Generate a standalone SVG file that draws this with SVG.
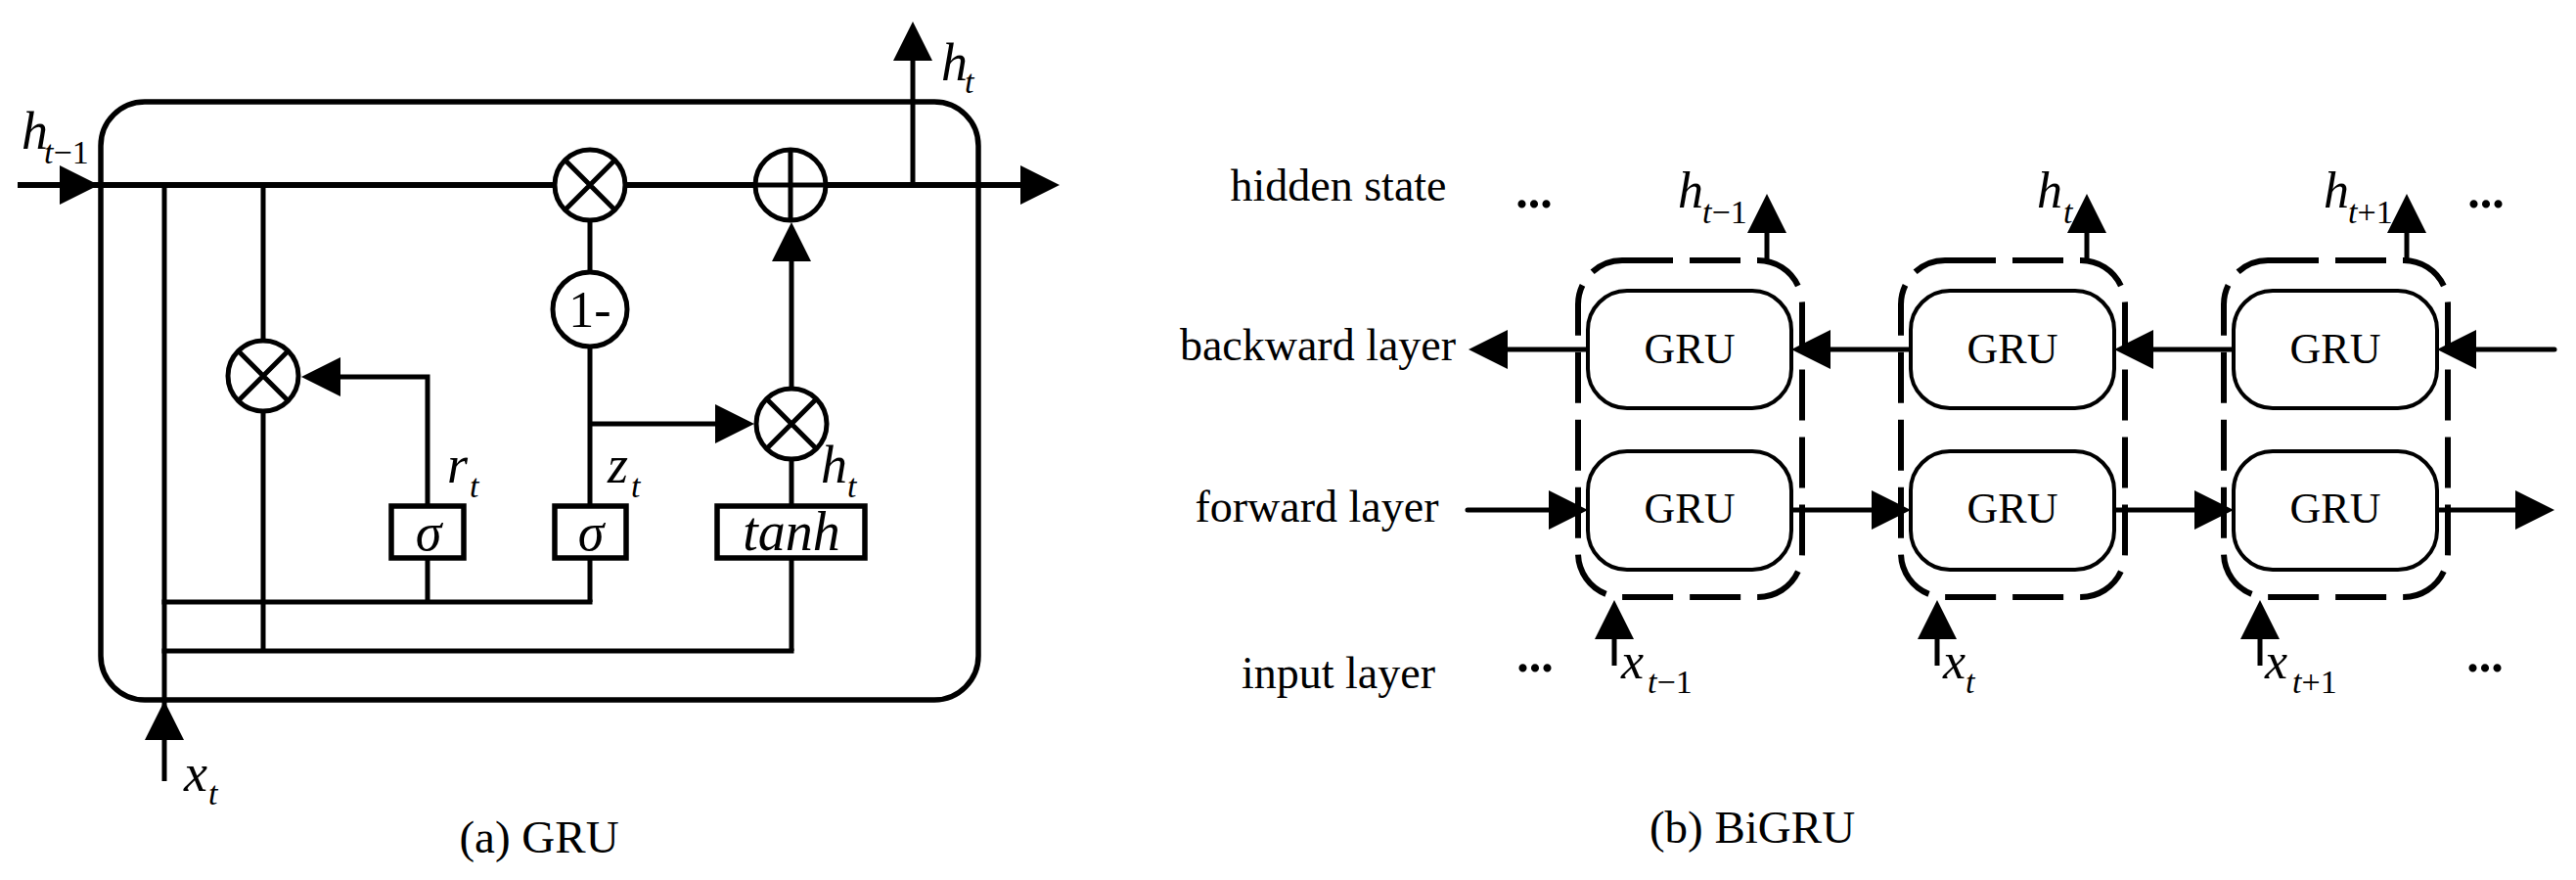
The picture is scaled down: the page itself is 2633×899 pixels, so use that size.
<svg xmlns="http://www.w3.org/2000/svg" xmlns:xlink="http://www.w3.org/1999/xlink" width="2633" height="899" viewBox="0 0 2633 899">
<style>
text{font-family:"Liberation Serif","Times New Roman",serif;fill:#000}
.m{font-style:italic;font-size:54px}
.s{font-size:34px}
.si{font-style:italic}
.lbl{font-size:46px;text-anchor:middle}
.cap{font-size:47px;text-anchor:middle}
.gru{font-size:44px;text-anchor:middle}
.dots{font-size:50px;font-weight:bold;text-anchor:middle}
.ln{fill:none;stroke:#000;stroke-width:5}
.thick{fill:none;stroke:#000;stroke-width:6}
.op{fill:#fff;stroke:#000;stroke-width:5}
.box{fill:#fff;stroke:#000;stroke-width:5.5}
.cell{fill:#fff;stroke:#000;stroke-width:4}
.dash{fill:none;stroke:#000;stroke-width:6;stroke-dasharray:52 17}
.bl{fill:none;stroke:#000;stroke-width:5;stroke-linecap:round}
</style>
<defs>
<path id="ah" d="M0,0 L-40,-20 L-40,20 Z" fill="#000"/>
</defs>
<rect width="2633" height="899" fill="#fff"/>

<!-- ================= (a) GRU ================= -->
<g id="gru-cell">
<rect x="103" y="104" width="897" height="611" rx="45" ry="45" fill="none" stroke="#000" stroke-width="5.5"/>
</g>

<g id="gru-connectors">
<path class="thick" d="M18,189 H1045"/>
<use xlink:href="#ah" transform="translate(101,189)"/>
<use xlink:href="#ah" transform="translate(1083,189)"/>
<path class="ln" d="M933,189 V60"/>
<use xlink:href="#ah" transform="translate(933,22) rotate(-90)"/>
<path class="ln" d="M168,189 V798"/>
<use xlink:href="#ah" transform="translate(168,716) rotate(-90)"/>
<path class="ln" d="M269,189 V665"/>
<path class="ln" d="M437,517 V385 H345"/>
<use xlink:href="#ah" transform="translate(308,385) rotate(180)"/>
<path class="ln" d="M603,189 V517"/>
<path class="ln" d="M603,433 H733"/>
<use xlink:href="#ah" transform="translate(771,433)"/>
<path class="ln" d="M809,433 V265"/>
<use xlink:href="#ah" transform="translate(809,227) rotate(-90)"/>
<path class="ln" d="M809,433 V517"/>
<path class="ln" d="M437,570 V615 M603,570 V615 M809,570 V665"/>
<path class="ln" d="M165.5,615 H605.5 M165.5,665 H811.5"/>
</g>

<g id="op-mul-top">
<circle class="op" cx="603" cy="189" r="36"/>
<path class="ln" d="M577.5,163.5 L628.5,214.5 M628.5,163.5 L577.5,214.5"/>
</g>
<g id="op-add">
<circle class="op" cx="808" cy="189" r="36"/>
<path class="ln" d="M772,189 H844 M808,153 V225"/>
</g>
<g id="op-one-minus">
<circle class="op" cx="603" cy="316" r="38"/>
<text x="603" y="334" style="font-size:52px;text-anchor:middle">1-</text>
</g>
<g id="op-mul-reset">
<circle class="op" cx="269" cy="384" r="36"/>
<path class="ln" d="M243.5,358.5 L294.5,409.5 M294.5,358.5 L243.5,409.5"/>
</g>
<g id="op-mul-update">
<circle class="op" cx="809" cy="433" r="36"/>
<path class="ln" d="M783.5,407.5 L834.5,458.5 M834.5,407.5 L783.5,458.5"/>
</g>
<g id="sigma-r">
<rect class="box" x="400" y="517" width="74" height="53"/>
<text class="m" x="438" y="562" text-anchor="middle">σ</text>
</g>
<g id="sigma-z">
<rect class="box" x="567" y="517" width="73" height="53"/>
<text class="m" x="604" y="562" text-anchor="middle">σ</text>
</g>
<g id="tanh">
<rect class="box" x="733" y="517" width="151" height="53"/>
<text class="m" x="809" y="562" text-anchor="middle" style="font-size:56px">tanh</text>
</g>

<g id="gru-labels">
<text class="m" x="22" y="152">h</text><text class="s" x="45" y="167"><tspan class="si">t</tspan>−1</text>
<text class="m" x="962" y="82">h</text><text class="s si" x="986" y="95">t</text>
<text class="m" x="457" y="493">r</text><text class="s si" x="480" y="508">t</text>
<text class="m" x="621" y="493">z</text><text class="s si" x="645" y="508">t</text>
<text class="m" x="839" y="493">h</text><text class="s si" x="866" y="508">t</text>
<text class="m" x="188" y="808">x</text><text class="s si" x="213" y="822">t</text>
<text class="cap" x="551" y="871">(a) GRU</text>
</g>

<!-- ================= (b) BiGRU ================= -->
<g id="bigru-connectors">
<path class="bl" d="M1623,357 H1541"/>
<use xlink:href="#ah" transform="translate(1501,357) rotate(180)"/>
<path class="bl" d="M1953,357 H1871"/>
<use xlink:href="#ah" transform="translate(1831,357) rotate(180)"/>
<path class="bl" d="M2283,357 H2200"/>
<use xlink:href="#ah" transform="translate(2161,357) rotate(180)"/>
<path class="bl" d="M2611,357 H2530"/>
<use xlink:href="#ah" transform="translate(2491,357) rotate(180)"/>
<path class="bl" d="M1500,521 H1585"/>
<use xlink:href="#ah" transform="translate(1623,521)"/>
<path class="bl" d="M1831,521 H1915"/>
<use xlink:href="#ah" transform="translate(1953,521)"/>
<path class="bl" d="M2161,521 H2245"/>
<use xlink:href="#ah" transform="translate(2283,521)"/>
<path class="bl" d="M2491,521 H2573"/>
<use xlink:href="#ah" transform="translate(2611,521)"/>
<path class="ln" d="M1806,266 V236 M2133,266 V236 M2460,266 V236"/>
<use xlink:href="#ah" transform="translate(1806,198) rotate(-90)"/>
<use xlink:href="#ah" transform="translate(2133,198) rotate(-90)"/>
<use xlink:href="#ah" transform="translate(2460,198) rotate(-90)"/>
<path class="ln" d="M1650,680 V650 M1980,680 V650 M2310,680 V650"/>
<use xlink:href="#ah" transform="translate(1650,613) rotate(-90)"/>
<use xlink:href="#ah" transform="translate(1980,613) rotate(-90)"/>
<use xlink:href="#ah" transform="translate(2310,613) rotate(-90)"/>
</g>

<g id="step-t-1">
<rect class="dash" x="1613" y="266" width="229" height="344" rx="45" ry="45"/>
<rect class="cell" x="1623" y="297" width="208" height="120" rx="40" ry="40"/>
<text class="gru" x="1727" y="371">GRU</text>
<rect class="cell" x="1623" y="461" width="208" height="121" rx="40" ry="40"/>
<text class="gru" x="1727" y="534">GRU</text>
</g>
<g id="step-t">
<rect class="dash" x="1943" y="266" width="229" height="344" rx="45" ry="45"/>
<rect class="cell" x="1953" y="297" width="208" height="120" rx="40" ry="40"/>
<text class="gru" x="2057" y="371">GRU</text>
<rect class="cell" x="1953" y="461" width="208" height="121" rx="40" ry="40"/>
<text class="gru" x="2057" y="534">GRU</text>
</g>
<g id="step-t+1">
<rect class="dash" x="2273" y="266" width="229" height="344" rx="45" ry="45"/>
<rect class="cell" x="2283" y="297" width="208" height="120" rx="40" ry="40"/>
<text class="gru" x="2387" y="371">GRU</text>
<rect class="cell" x="2283" y="461" width="208" height="121" rx="40" ry="40"/>
<text class="gru" x="2387" y="534">GRU</text>
</g>

<g id="bigru-labels">
<text class="lbl" x="1368" y="205">hidden state</text>
<text class="lbl" x="1347" y="368">backward layer</text>
<text class="lbl" x="1346" y="533">forward layer</text>
<text class="lbl" x="1368" y="703">input layer</text>
<text class="dots" x="1568" y="212">...</text>
<text class="dots" x="2541" y="212">...</text>
<text class="dots" x="1569" y="686">...</text>
<text class="dots" x="2540" y="686">...</text>
<text class="m" x="1715" y="212" style="font-size:52px">h</text><text class="s" x="1740" y="228"><tspan class="si">t</tspan>−1</text>
<text class="m" x="2082" y="212" style="font-size:52px">h</text><text class="s si" x="2109" y="228">t</text>
<text class="m" x="2375" y="212" style="font-size:52px">h</text><text class="s" x="2400" y="228"><tspan class="si">t</tspan>+1</text>
<text class="m" x="1657" y="693" style="font-size:52px">x</text><text class="s" x="1684" y="708"><tspan class="si">t</tspan>−1</text>
<text class="m" x="1986" y="693" style="font-size:52px">x</text><text class="s si" x="2009" y="708">t</text>
<text class="m" x="2315" y="693" style="font-size:52px">x</text><text class="s" x="2343" y="708"><tspan class="si">t</tspan>+1</text>
<text class="cap" x="1791" y="861">(b) BiGRU</text>
</g>
</svg>
